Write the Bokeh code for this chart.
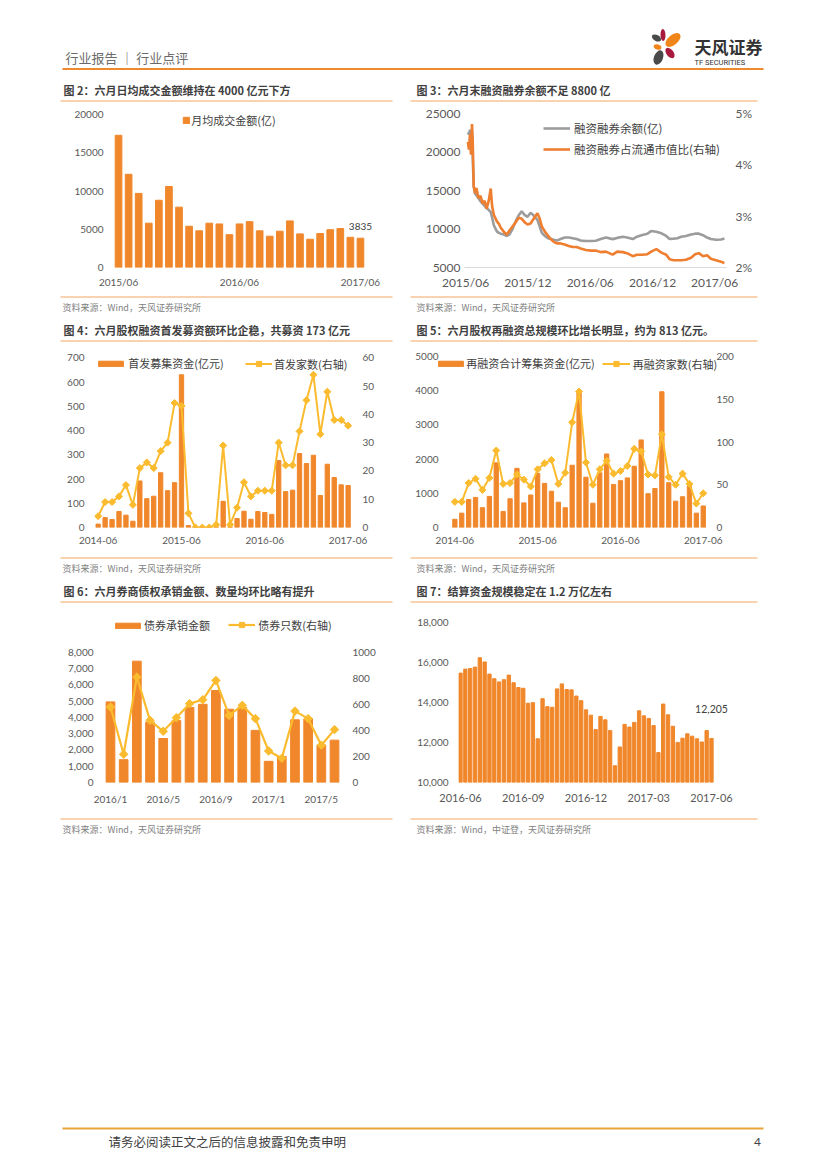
import pandas as pd
from bokeh.plotting import figure
from bokeh.layouts import column, row
from bokeh.models import (Range1d, LinearAxis, FixedTicker, Legend, LegendItem,
                          NumeralTickFormatter, PrintfTickFormatter, DatetimeTickFormatter)
from bokeh.core.properties import value
from bokeh.embed import file_html
from bokeh.resources import INLINE

# ---------------- data ----------------
# Fig 2: monthly average turnover (亿)
c2_months = [f"{p.year}/{p.month:02d}" for p in pd.period_range("2015-06", "2017-06", freq="M")]
c2_turnover = [17300, 12200, 9700, 5800, 8800, 10600, 7900, 5400, 4800, 5800, 5700, 4300,
               5700, 6000, 4800, 4100, 4750, 6100, 4400, 3700, 4450, 4950, 5100, 3950, 3835]
c2_yticks = [0, 5000, 10000, 15000, 20000]

# Fig 3: margin balance (亿) and ratio to float market cap (%)
c3_dates = ["2015-06-08", "2015-06-11", "2015-06-14", "2015-06-17", "2015-06-20", "2015-06-22",
            "2015-06-25", "2015-06-29", "2015-07-03", "2015-07-09", "2015-07-15", "2015-07-21",
            "2015-07-27", "2015-08-02", "2015-08-08", "2015-08-14", "2015-08-18", "2015-08-23",
            "2015-09-01", "2015-09-07", "2015-09-12", "2015-09-21", "2015-09-30", "2015-10-08",
            "2015-10-17", "2015-10-26", "2015-11-04", "2015-11-13", "2015-11-22", "2015-11-30",
            "2015-12-09", "2015-12-15", "2015-12-29", "2016-01-05", "2016-01-11", "2016-01-20",
            "2016-01-29", "2016-02-07", "2016-02-15", "2016-02-24", "2016-03-06", "2016-03-18",
            "2016-03-30", "2016-04-11", "2016-04-22", "2016-05-04", "2016-05-19", "2016-06-03",
            "2016-06-17", "2016-07-02", "2016-07-17", "2016-08-06", "2016-08-19", "2016-09-05",
            "2016-09-17", "2016-10-04", "2016-10-16", "2016-11-01", "2016-11-16", "2016-11-27",
            "2016-12-12", "2016-12-27", "2017-01-10", "2017-01-20", "2017-02-01", "2017-02-12",
            "2017-02-23", "2017-03-09", "2017-03-24", "2017-04-05", "2017-04-16", "2017-04-28",
            "2017-05-10", "2017-05-21", "2017-06-05", "2017-06-20", "2017-06-30"]
c3_balance = [22600, 22300, 22900, 22500, 21500, 19500, 15500, 14600,
              14400, 14000, 13600, 13300, 13000,
              12700, 12500, 12200, 11500, 10500,
              9700, 9500, 9400, 9300, 9100,
              9300, 10000, 11000,
              11800, 12300, 11800, 11600,
              12100, 11900, 11200,
              10300, 9500, 9100, 8800,
              8700, 8600, 8500,
              8700, 8900, 8900,
              8800, 8700,
              8500, 8450,
              8450, 8480,
              8700, 8900,
              8690, 8850,
              8990, 8900,
              8700, 9000,
              9240, 9400, 9750,
              9650, 9450,
              9100, 8700,
              8750, 8800, 9000,
              9100, 9300,
              9400, 9400, 9200,
              8900, 8700,
              8600, 8650, 8770]
c3_ratio = [4.45, 4.30, 4.60, 4.20, 4.80, 4.50, 3.60, 3.45,
            3.55, 3.35, 3.40, 3.25, 3.30,
            3.15, 3.30, 3.54, 3.20, 3.03,
            2.90, 2.85, 2.78, 2.70, 2.64,
            2.72, 2.80, 2.88,
            2.97, 2.95, 2.88, 2.84,
            2.86, 2.92, 3.06,
            2.95, 2.80, 2.70, 2.62,
            2.55, 2.50, 2.47,
            2.47, 2.45, 2.42,
            2.40, 2.40,
            2.37, 2.34,
            2.33, 2.33,
            2.30, 2.31,
            2.25, 2.31,
            2.30, 2.28,
            2.22, 2.25,
            2.25, 2.26, 2.31,
            2.36, 2.29,
            2.25, 2.16,
            2.14, 2.14, 2.14,
            2.15, 2.19,
            2.26, 2.28, 2.22,
            2.24, 2.17,
            2.14, 2.11, 2.09]
c3_xticks = ["2015-06-01", "2015-12-01", "2016-06-01", "2016-12-01", "2017-06-01"]
c3_yticks = [5000, 10000, 15000, 20000, 25000]
c3_rticks = [2, 3, 4, 5]

# Fig 4: IPO amount (亿元) and count
c4_months = [f"{p.year}-{p.month:02d}" for p in pd.period_range("2014-06", "2017-06", freq="M")]
c4_amount = [14, 41, 33, 66, 51, 26, 192, 119, 129, 226, 152, 185, 630, 8, 0, 0, 0, 3, 108, 3,
             37, 67, 34, 66, 62, 54, 276, 148, 154, 305, 264, 298, 132, 261, 206, 176, 173]
c4_count = [4, 9, 9, 11, 15, 8, 21, 23, 21, 27, 30, 44, 43, 5, 0, 0, 0, 1, 29, 1,
            7, 16, 11, 13, 13, 13, 30, 22, 22, 34, 45, 54, 33, 48, 38, 38, 36]
c4_yticks = [0, 100, 200, 300, 400, 500, 600, 700]
c4_rticks = [0, 10, 20, 30, 40, 50, 60]

# Fig 5: refinancing amount (亿元) and count
c5_months = c4_months
c5_amount = [240, 420, 820, 880, 580, 910, 1890, 470, 840, 1730, 720, 950, 1580, 1290, 1060, 740,
             580, 1820, 3960, 1470, 710, 1600, 2150, 1260, 1370, 1450, 1790, 2560, 990, 1140,
             3970, 1310, 770, 900, 1210, 420, 630]
c5_count = [30, 30, 52, 57, 44, 58, 90, 51, 52, 62, 56, 48, 68, 75, 79, 51, 64, 123, 159, 76,
            50, 68, 78, 63, 66, 72, 92, 89, 62, 61, 109, 59, 50, 63, 51, 28, 40]
c5_yticks = [0, 1000, 2000, 3000, 4000, 5000]
c5_rticks = [0, 50, 100, 150, 200]

# Fig 6: bond underwriting amount and count
c6_months = [f"{p.year}/{p.month}" for p in pd.period_range("2016-01", "2017-06", freq="M")]
c6_amount = [4950, 1400, 7450, 3700, 2700, 3800, 4600, 4800, 5650, 4500, 4600, 3200,
             1300, 1600, 3850, 3900, 2300, 2600]
c6_count = [579, 217, 809, 477, 393, 497, 605, 635, 783, 515, 592, 490, 242, 186, 548, 490, 286, 406]
c6_yticks = [0, 1000, 2000, 3000, 4000, 5000, 6000, 7000, 8000]
c6_rticks = [0, 200, 400, 600, 800, 1000]

# Fig 7: weekly settlement funds (亿元)
c7_dates = pd.date_range("2016-06-03", periods=53, freq="7D")
c7_weeks = [d.strftime("%Y-%m") for d in c7_dates]
c7_week_day = [d.day for d in c7_dates]
c7_funds = [15480, 15680, 15710, 15780, 16250, 16040, 15430, 15200, 15040, 15150,
            15380, 15000, 14760, 14720, 13970, 14000, 12190, 14200, 13800, 13770,
            14690, 14940, 14660, 14640, 14330, 14100, 13640, 13370, 12650, 13310,
            13140, 12600, 10840, 11780, 12910, 12780, 13010, 13590, 13340, 13210,
            12850, 11500, 13930, 13390, 12820, 12010, 12220, 12440, 12320, 12190,
            12030, 12600, 12205]
c7_yticks = [10000, 12000, 14000, 16000, 18000]

# ---------------- style ----------------
CJK = "Noto Sans CJK SC"
NUM = "Lato"
ORANGE = "#F0872B"
GOLD = "#FBBB2F"
GRAYL = "#9C9C9C"
LORANGE = "#EE7E30"
TICK = "#595959"
RULE = "#F3A562"
TXT = "#404040"


def xr(d0, d1, p0, p1, f0, f1):
    """data d0..d1 drawn at pixels p0..p1, frame spans f0..f1"""
    k = (d1 - d0) / (p1 - p0)
    return Range1d(d0 - (p0 - f0) * k, d1 + (f1 - p1) * k)


def yr(d0, d1, p0, p1, f1):
    """data d0 at frame bottom pixel p0, d1 at pixel p1; frame top at f1"""
    k = (d1 - d0) / (p0 - p1)
    return Range1d(d0, d1 + (p1 - f1) * k)


def chart(w, h, bl, br, bt, bb, xrange_, yrange_, x_type="linear"):
    p = figure(width=w, height=h, x_range=xrange_, y_range=yrange_, x_axis_type=x_type,
               title=None, toolbar_location=None, output_backend="svg",
               min_border_left=bl, min_border_right=br, min_border_top=bt, min_border_bottom=bb)
    p.xgrid.visible = False
    p.ygrid.visible = False
    p.outline_line_color = None
    return p


def style_axis(ax, size, standoff, ticks=None, fmt=None, line=False):
    ax.major_tick_line_color = None
    ax.minor_tick_line_color = None
    ax.major_tick_out = 0
    ax.major_tick_in = 0
    ax.minor_tick_out = 0
    ax.minor_tick_in = 0
    ax.axis_line_color = "#D9D9D9" if line else None
    ax.major_label_text_font = NUM
    ax.major_label_text_font_size = size
    ax.major_label_text_color = TICK
    ax.major_label_standoff = standoff
    if ticks is not None:
        ax.ticker = FixedTicker(ticks=ticks)
    if fmt is not None:
        ax.formatter = fmt


def cat_xaxis(p, labels, shown, size, standoff, line=False):
    idx = [i for i, m in enumerate(labels) if shown(i, m)]
    ax = p.xaxis[0]
    style_axis(ax, size, standoff, ticks=idx, line=line)
    ax.major_label_overrides = {i: labels[i] for i in idx}


def legend(p, items, loc, gw, gh, standoff, size="11px", orientation="horizontal", spacing=0,
           baseline="middle"):
    lg = Legend(items=[LegendItem(label=l, renderers=r) for l, r in items], location=loc,
                orientation=orientation, glyph_width=gw, glyph_height=gh, label_height=gh,
                label_standoff=standoff, padding=0, margin=0, spacing=spacing,
                background_fill_alpha=0, border_line_color=None,
                label_text_font=CJK, label_text_font_size=size, label_text_color=TXT,
                label_text_baseline=baseline)
    p.add_layout(lg)


# ---------------- Fig 2 (row 1 frames: top 106, bottom 269) ----------------
x2 = list(range(len(c2_turnover)))
p2 = chart(410, 188, 113, 18, 2, 23,
           xr(-0.5, len(x2) - 0.5, 113, 365, 113, 392), yr(0, 20000, 269, 114.3, 106))
b2 = p2.vbar(x=x2, top=c2_turnover, width=0.66, color=ORANGE)
style_axis(p2.yaxis[0], "10px", 10, ticks=c2_yticks)
cat_xaxis(p2, c2_months, lambda i, m: m.endswith("/06"), "10px", 8)
p2.text(x=[x2[-1]], y=[c2_turnover[-1]], text=[str(c2_turnover[-1])], y_offset=-12,
        text_font=value(NUM), text_font_size="10px", text_color=TXT,
        text_align="center", text_baseline="middle")
legend(p2, [("月均成交金额(亿)", [b2])], (69.2, 139.3), 8, 8, 1, baseline="alphabetic")

# ---------------- Fig 3 ----------------
d3 = pd.to_datetime(c3_dates)
p3 = chart(417, 188, 54, 101, 2, 23,
           Range1d(pd.Timestamp("2015-05-29"), pd.Timestamp("2017-07-06")),
           yr(5000, 25000, 269, 113.3, 106), x_type="datetime")
p3.extra_y_ranges = {"r": yr(2, 5, 269, 113.3, 106)}
g_line = p3.line(x=d3, y=c3_balance, line_color=GRAYL, line_width=2.6)
o_line = p3.line(x=d3, y=c3_ratio, y_range_name="r", line_color=LORANGE, line_width=2.6)
style_axis(p3.yaxis[0], "12px", 4, ticks=c3_yticks)
r3 = LinearAxis(y_range_name="r")
p3.add_layout(r3, "right")
style_axis(r3, "12px", 9, ticks=c3_rticks, fmt=PrintfTickFormatter(format="%d%%"))
fmt3 = DatetimeTickFormatter(days="%Y/%m", months="%Y/%m", years="%Y/%m")
style_axis(p3.xaxis[0], "12px", 7,
           ticks=[pd.Timestamp(t).value // 10**6 for t in c3_xticks], fmt=fmt3, line=True)
legend(p3, [("融资融券余额(亿)", [g_line]), ("融资融券占流通市值比(右轴)", [o_line])],
       (79, 110), 27, 14, 4, size="11.5px", orientation="vertical", spacing=5)

# ---------------- Fig 4 (row 2 frames: top 350, bottom 527) ----------------
x4 = list(range(len(c4_amount)))
p4 = chart(410, 208, 94, 50, 5, 26,
           xr(-0.5, len(x4) - 0.5, 94.2, 351.1, 94, 360), yr(0, 700, 527, 357.3, 350))
p4.extra_y_ranges = {"r": yr(0, 60, 527, 357.3, 350)}
b4 = p4.vbar(x=x4, top=c4_amount, width=0.62, color=ORANGE)
l4 = p4.line(x=x4, y=c4_count, y_range_name="r", line_color=GOLD, line_width=2)
m4 = p4.scatter(x=x4, y=c4_count, y_range_name="r", marker="square", angle=0.785, size=5,
                color=GOLD)
style_axis(p4.yaxis[0], "10px", 10, ticks=c4_yticks)
r4 = LinearAxis(y_range_name="r")
p4.add_layout(r4, "right")
style_axis(r4, "10px", 2, ticks=c4_rticks)
cat_xaxis(p4, c4_months, lambda i, m: m.endswith("-06"), "10px", 9)
legend(p4, [("首发募集资金(亿元)", [b4])], (1.2, 155.7), 31, 7, 2, baseline="alphabetic")
legend(p4, [("首发家数(右轴)", [l4, m4])], (151, 155.2), 27, 13, 2)

# ---------------- Fig 5 ----------------
x5 = list(range(len(c5_amount)))
p5 = chart(417, 208, 26, 107, 5, 26,
           xr(-0.5, len(x5) - 0.5, 450.9, 706.2, 436, 720), yr(0, 5000, 527, 356, 350))
p5.extra_y_ranges = {"r": yr(0, 200, 527, 356, 350)}
b5 = p5.vbar(x=x5, top=c5_amount, width=0.62, color=ORANGE)
l5 = p5.line(x=x5, y=c5_count, y_range_name="r", line_color=GOLD, line_width=2)
m5 = p5.scatter(x=x5, y=c5_count, y_range_name="r", marker="square", angle=0.785, size=5,
                color=GOLD)
style_axis(p5.yaxis[0], "10px", -2, ticks=c5_yticks)
r5 = LinearAxis(y_range_name="r")
p5.add_layout(r5, "right")
style_axis(r5, "10px", -4, ticks=c5_rticks)
cat_xaxis(p5, c5_months, lambda i, m: m.endswith("-06"), "10px", 9)
legend(p5, [("再融资合计筹集资金(亿元)", [b5])], (-0.8, 155.7), 31, 7, 0, baseline="alphabetic")
legend(p5, [("再融资家数(右轴)", [l5, m5])], (165.7, 155.2), 28, 13, 3)

# ---------------- Fig 6 (row 3 frames: top 608, bottom 782) ----------------
x6 = list(range(len(c6_amount)))
p6 = chart(410, 207, 103, 69, 2, 31,
           xr(-0.5, len(x6) - 0.5, 103.4, 340.6, 103, 341), yr(0, 8000, 782, 651.7, 608))
p6.extra_y_ranges = {"r": yr(0, 1000, 782, 651.7, 608)}
b6 = p6.vbar(x=x6, top=c6_amount, width=0.66, color=ORANGE)
l6 = p6.line(x=x6, y=c6_count, y_range_name="r", line_color=GOLD, line_width=2.2)
m6 = p6.scatter(x=x6, y=c6_count, y_range_name="r", marker="square", angle=0.785, size=6,
                color=GOLD)
style_axis(p6.yaxis[0], "10px", 10, ticks=c6_yticks, fmt=NumeralTickFormatter(format="0,0"))
r6 = LinearAxis(y_range_name="r")
p6.add_layout(r6, "right")
style_axis(r6, "10px", 11, ticks=c6_rticks)
cat_xaxis(p6, c6_months, lambda i, m: i % 4 == 0, "10px", 10)
legend(p6, [("债券承销金额", [b6])], (8.9, 149), 31, 7, 1, baseline="alphabetic")
legend(p6, [("债券只数(右轴)", [l6, m6])], (125.3, 149.5), 27, 13, 3)

# ---------------- Fig 7 ----------------
x7 = list(range(len(c7_funds)))
p7 = chart(417, 207, 48, 92, 2, 31,
           xr(-0.5, len(x7) - 0.5, 457.6, 713.4, 458, 735),
           yr(10000, 18000, 782, 622.3, 608))
p7.vbar(x=x7, bottom=c7_yticks[0], top=c7_funds, width=0.69, color=ORANGE)
style_axis(p7.yaxis[0], "10px", 10, ticks=c7_yticks, fmt=NumeralTickFormatter(format="0,0"))
cat_xaxis(p7, c7_weeks, lambda i, m: c7_week_day[i] <= 7 and int(m[-2:]) % 3 == 0, "11px", 11)
p7.text(x=[x7[-1]], y=[c7_funds[-1]], text=[f"{c7_funds[-1]:,}"], y_offset=-29,
        text_font=value(NUM), text_font_size="10.5px", text_color=TXT,
        text_align="center", text_baseline="middle")


# ---------------- page decorations ----------------
def strip(y_top, y_bot):
    p = figure(width=827, height=int(round(y_bot - y_top)), x_range=Range1d(0, 827),
               y_range=Range1d(y_bot, y_top), title=None, toolbar_location=None,
               output_backend="svg", min_border=0, x_axis_location=None, y_axis_location=None)
    p.xgrid.visible = False
    p.ygrid.visible = False
    p.outline_line_color = None
    return p


def txt(p, x, y, s, size, color=TXT, font=CJK, bold=False, align="left"):
    p.text(x=[x], y=[y], text=[s], text_font=value(font), text_font_size=size,
           text_color=color, text_baseline="middle", text_align=align,
           text_font_style="bold" if bold else "normal")


def rule(p, x0, x1, y, color=RULE, w=1):
    p.segment(x0=[x0], y0=[y], x1=[x1], y1=[y], line_color=color, line_width=w)


def titles(p, y, left, right):
    txt(p, 63, y, left, "11px", bold=True)
    txt(p, 416, y, right, "11px", bold=True)
    rule(p, 60, 392, y + 11.5)
    rule(p, 410, 757, y + 11.5)


def sources(p, y, left, right):
    rule(p, 60, 392, y)
    rule(p, 410, 757, y)
    txt(p, 62, y + 10.5, left, "9px", color="#7F7F7F")
    txt(p, 416, y + 10.5, right, "9px", color="#7F7F7F")


SRC = "资料来源：Wind，天风证券研究所"

d1 = strip(0, 104)
txt(d1, 65, 57, "行业报告 ｜ 行业点评", "13px", color="#6B6B6B")
rule(d1, 62, 763, 68.5, color="#EE8A2E", w=2)
d1.ellipse(x=[662.5, 656, 672.5, 657, 669.5, 658], y=[34.5, 37.5, 39.5, 46.5, 52.5, 57],
           width=[12, 10, 18, 8, 12, 15], height=[5, 6, 10, 5, 7, 9],
           angle=[1.6, -0.5, 0.7, -0.3, -0.9, 1.2],
           fill_color=["#A8193D", "#4A4A4A", "#F08519", "#F08519", "#A8193D", "#4A4A4A"],
           line_color=None)
txt(d1, 694, 46, "天风证券", "17px", color="#333333", bold=True)
txt(d1, 694, 62, "TF SECURITIES", "7.5px", color="#333333", font="Roboto")
titles(d1, 89, "图 2：六月日均成交金额维持在 4000 亿元下方", "图 3：六月末融资融券余额不足 8800 亿")

d2 = strip(292, 345)
sources(d2, 296.5, SRC, SRC)
titles(d2, 329, "图 4：六月股权融资首发募资额环比企稳，共募资 173 亿元",
       "图 5：六月股权再融资总规模环比增长明显，约为 813 亿元。")

d3s = strip(553, 606)
sources(d3s, 557.5, SRC, SRC)
titles(d3s, 590, "图 6：六月券商债权承销金额、数量均环比略有提升", "图 7：结算资金规模稳定在 1.2 万亿左右")

d4 = strip(813, 1160)
sources(d4, 818.5, SRC, "资料来源：Wind，中证登，天风证券研究所")
rule(d4, 62, 763, 1128, color="#E8A33A", w=2)
txt(d4, 108, 1141, "请务必阅读正文之后的信息披露和免责申明", "12.5px", color="#404040")
txt(d4, 757, 1141, "4", "12px", color="#404040", font=NUM, align="center")

page = column(d1, row(p2, p3, spacing=0), d2, row(p4, p5, spacing=0), d3s,
              row(p6, p7, spacing=0), d4, spacing=0)

open("out.html", "w").write(file_html(page, INLINE))
